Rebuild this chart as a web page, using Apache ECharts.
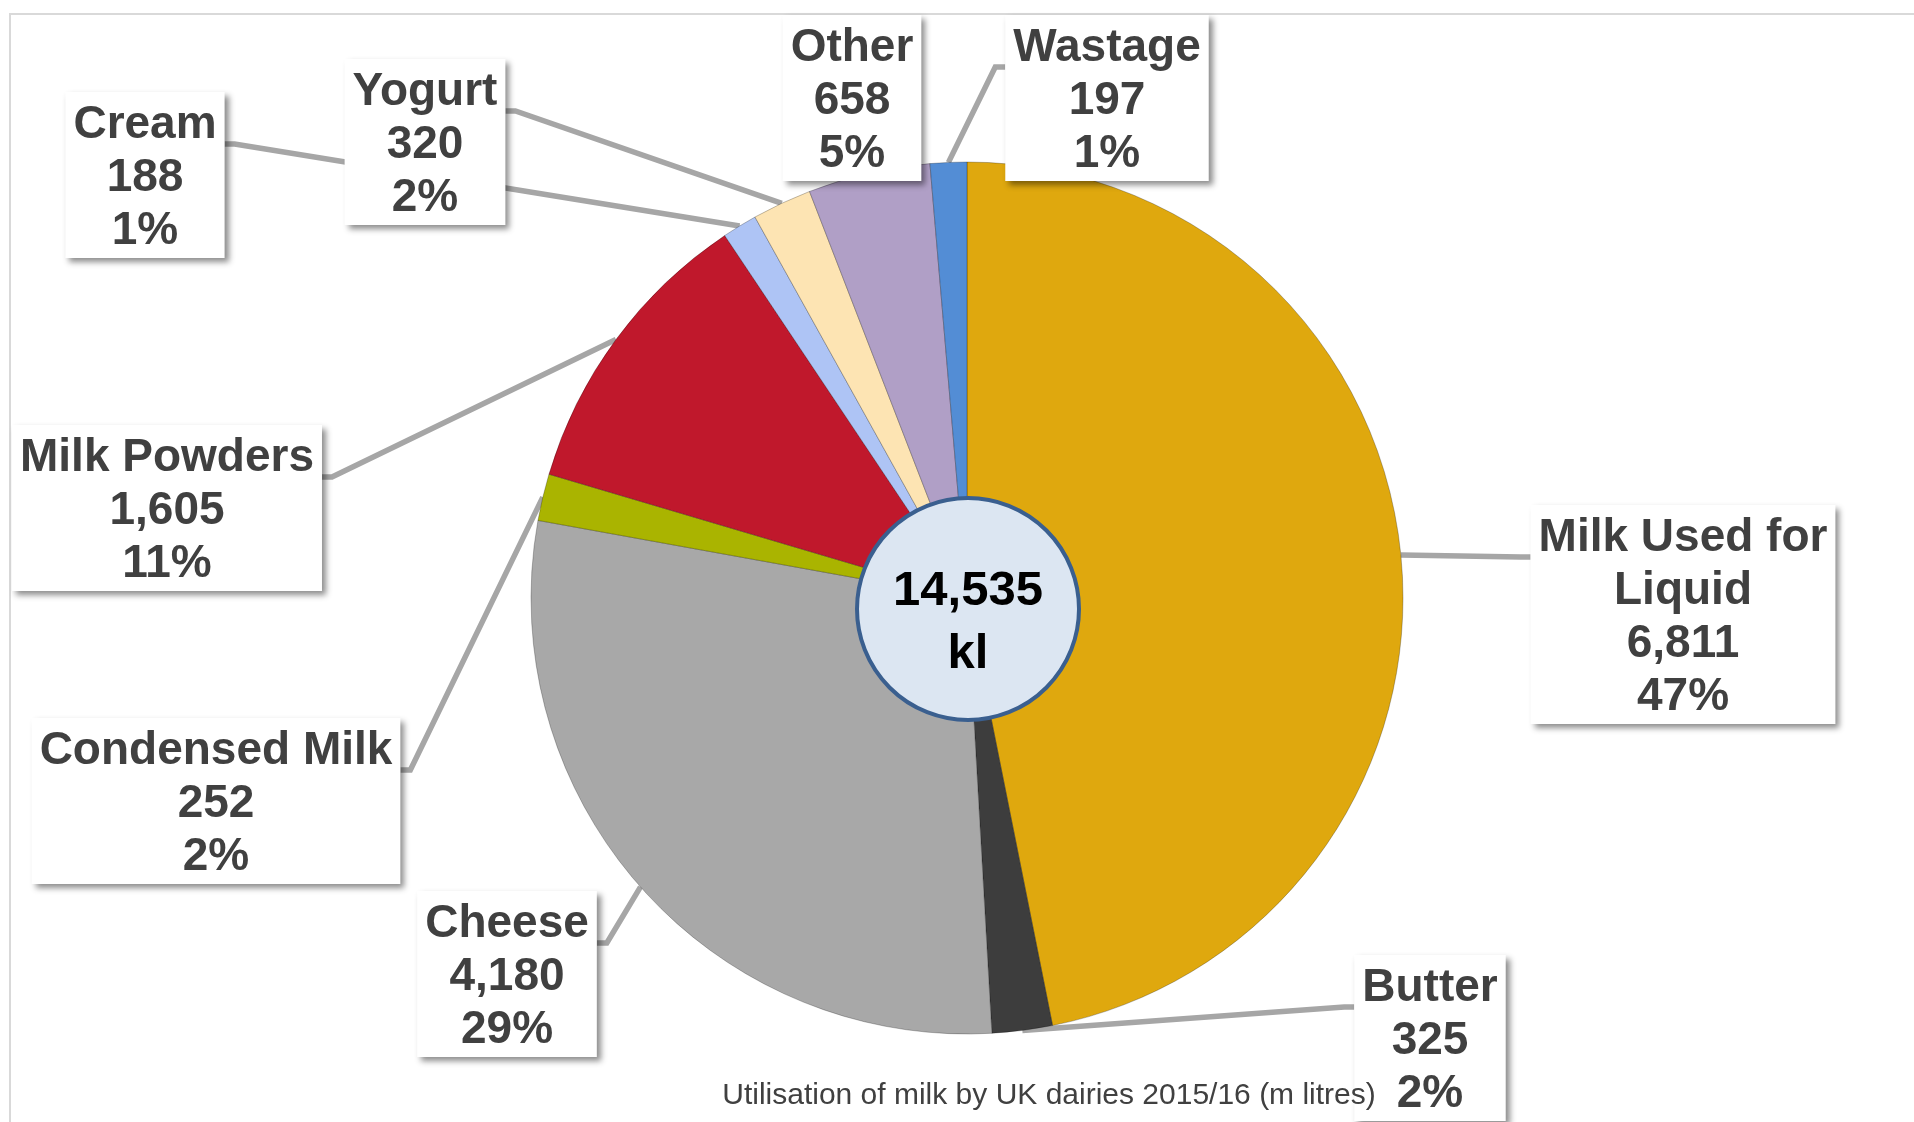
<!DOCTYPE html>
<html>
<head>
<meta charset="utf-8">
<title>Utilisation of milk by UK dairies 2015/16</title>
<script src="https://cdn.jsdelivr.net/npm/echarts@6/dist/echarts.min.js"></script>
<style>
html, body { margin: 0; padding: 0; background: #fff; }
#milk-chart { width: 1914px; height: 1122px; }
</style>
</head>
<body>
<div id="milk-chart"></div>
<script>
// slices, clockwise from 12 o'clock (m litres)
const categories = ['Milk Used for Liquid', 'Butter', 'Cheese', 'Condensed Milk', 'Milk Powders', 'Cream', 'Yogurt', 'Other', 'Wastage'];
const volumes = [6811, 325, 4180, 252, 1605, 188, 320, 658, 197];
const totalKl = 14535;
const totalUnit = 'kl';
const captionText = 'Utilisation of milk by UK dairies 2015/16 (m litres)';

const sliceColors = ['#dfa80e', '#3d3d3d', '#a8a8a8', '#aab400', '#c0182c', '#aec4f5', '#fde4b3', '#b09fc6', '#538dd5'];

// where each label box sits: [centre x, top y]
const labelSpots = {
  'Milk Used for Liquid': [1683, 505],
  'Butter': [1430, 955],
  'Cheese': [507, 891],
  'Condensed Milk': [216, 718],
  'Milk Powders': [167, 425],
  'Cream': [145, 92],
  'Yogurt': [425, 59],
  'Other': [852, 15],
  'Wastage': [1107, 15]
};
const leaderDrop = 52; // leader line meets the box at the first text line
const leaderStub = 10;

// excel wrapped the long name, do the same (max 14 chars a line)
function wrapName(name) {
  const words = name.split(' ');
  const lines = [];
  let cur = '';
  words.forEach(w => {
    if (cur && (cur + ' ' + w).length > 14) { lines.push(cur); cur = w; }
    else cur = cur ? cur + ' ' + w : w;
  });
  lines.push(cur);
  return lines.join('\n');
}

const myChart = echarts.init(document.getElementById('milk-chart'));

const option = {
  animation: false,
  graphic: [
    {
      type: 'rect', z: -1, silent: true,
      shape: { x: 10, y: 14, width: 1930, height: 1140 },
      style: { fill: 'none', stroke: '#d9d9d9', lineWidth: 2 }
    },
    {
      type: 'circle', z: 100, silent: true,
      shape: { cx: 968, cy: 609, r: 111 },
      style: { fill: '#dce6f2', stroke: '#3a5f8f', lineWidth: 4 }
    },
    {
      type: 'text', z: 101, silent: true,
      x: 968, y: 623,
      style: {
        text: totalKl.toLocaleString('en-US') + '\n' + totalUnit,
        align: 'center', verticalAlign: 'middle',
        fontFamily: 'Liberation Sans, Arial, sans-serif',
        fontWeight: 'bold', fontSize: 49, lineHeight: 63, fill: '#000'
      }
    },
    {
      type: 'text', z: 102, silent: true,
      x: 1049, y: 1096,
      style: {
        text: captionText,
        align: 'center', verticalAlign: 'middle',
        fontFamily: 'Liberation Sans, Arial, sans-serif',
        fontSize: 30, fill: '#404040'
      }
    }
  ],
  series: [
    {
      type: 'pie',
      center: [967, 598],
      radius: 436,
      startAngle: 90,
      clockwise: true,
      avoidLabelOverlap: false,
      emphasis: { scale: false },
      itemStyle: { borderColor: 'rgba(0,0,0,0.25)', borderWidth: 1 },
      label: {
        show: true,
        position: 'outside',
        formatter: (p) => wrapName(p.name) + '\n' + p.value.toLocaleString('en-US') + '\n' + Math.round(p.percent) + '%',
        color: '#404040',
        fontFamily: 'Liberation Sans, Arial, sans-serif',
        fontWeight: 'bold',
        fontSize: 46,
        lineHeight: 53,
        align: 'center',
        backgroundColor: '#fff',
        padding: [7, 8, 0, 8],
        shadowColor: 'rgba(0,0,0,0.45)',
        shadowBlur: 6,
        shadowOffsetX: 4,
        shadowOffsetY: 4
      },
      labelLine: {
        show: true,
        length: 20,
        length2: 10,
        smooth: false,
        lineStyle: { color: '#a6a6a6', width: 5.5 }
      },
      labelLayout: (params) => {
        const spot = labelSpots[categories[params.dataIndex]];
        const out = { x: spot[0], y: spot[1], align: 'center', verticalAlign: 'top' };
        const pts = params.labelLinePoints;
        if (pts && pts.length) {
          // start where the pie put it (arc middle), end on the box edge like excel does
          const a = pts[0];
          const half = params.labelRect.width / 2;
          const left = spot[0] - half, right = spot[0] + half;
          const ly = spot[1] + leaderDrop;
          if (a[0] < left) {
            out.labelLinePoints = [[a[0], a[1]], [left - leaderStub, ly], [left, ly]];
          } else if (a[0] > right) {
            out.labelLinePoints = [[a[0], a[1]], [right + leaderStub, ly], [right, ly]];
          } else {
            const bottom = spot[1] + params.labelRect.height;
            out.labelLinePoints = [[a[0], a[1]], [a[0], bottom], [a[0], bottom]];
          }
        }
        return out;
      },
      data: categories.map((name, i) => ({
        name: name,
        value: volumes[i],
        itemStyle: { color: sliceColors[i] }
      }))
    }
  ]
};

option && myChart.setOption(option);
</script>
</body>
</html>
